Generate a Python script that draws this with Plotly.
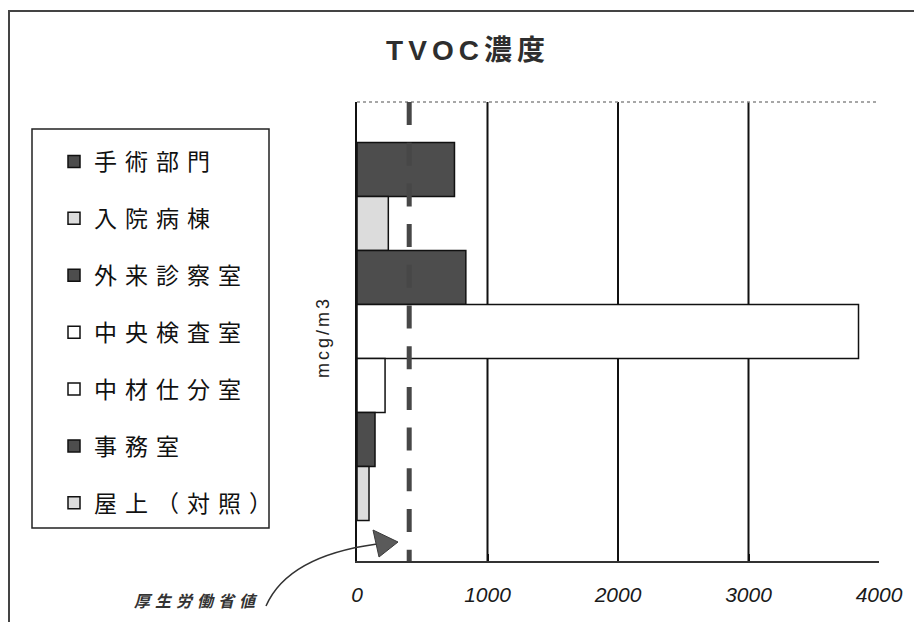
import plotly.graph_objects as go

# TVOC concentration by hospital area (mcg/m3)
categories = ["手術部門", "入院病棟", "外来診察室", "中央検査室", "中材仕分室", "事務室", "屋上（対照）"]
tvoc_values = [747, 240, 834, 3843, 215, 138, 92]
guideline_value = 400
x_ticks = [0, 1000, 2000, 3000, 4000]
x_tick_labels = ["0", "1000", "2000", "3000", "4000"]

DARK, LIGHT, WHITE = "#4d4d4d", "#dcdcdc", "#ffffff"
bar_colors = [DARK, LIGHT, DARK, WHITE, WHITE, DARK, LIGHT]

W, H = 914, 622
L, R, T, B = 357, 879, 102, 561


def pxx(x):
    """pixel x -> paper x"""
    return (x - L) / (R - L)


def pxy(y):
    """pixel y -> paper y"""
    return (B - y) / (B - T)


fig = go.Figure()
for name, val, col in zip(categories, tvoc_values, bar_colors):
    fig.add_trace(go.Bar(
        y=["TVOC"], x=[val], name=name, orientation="h",
        legendgroup=name,
        marker=dict(color=col, line=dict(color="#111111", width=1.5)),
        hovertemplate="%{x}<extra>" + name + "</extra>",
    ))

shapes = []
# vertical gridlines at interior ticks
for v in x_ticks[1:-1]:
    shapes.append(dict(type="line", xref="x", yref="paper", x0=v, x1=v, y0=0, y1=1,
                       line=dict(color="#111111", width=2), layer="below"))
# dotted top border of plot area
shapes.append(dict(type="line", xref="paper", yref="paper", x0=0, x1=1, y0=1, y1=1,
                   line=dict(color="#8a8a8a", width=1.5, dash="dot")))
# guideline value (dashed)
shapes.append(dict(type="line", xref="x", yref="paper", x0=guideline_value, x1=guideline_value,
                   y0=1, y1=0, line=dict(color="#474747", width=5, dash="23px,17.7px")))
# legend frame
shapes.append(dict(type="rect", xref="paper", yref="paper",
                   x0=pxx(32), x1=pxx(269), y0=pxy(528), y1=pxy(129),
                   line=dict(color="#222222", width=1.5), fillcolor="rgba(0,0,0,0)"))
# outer chart frame (only top and left edges fall inside the page)
shapes.append(dict(type="rect", xref="paper", yref="paper",
                   x0=pxx(9), x1=pxx(980), y0=pxy(680), y1=pxy(11),
                   line=dict(color="#444444", width=2), fillcolor="rgba(0,0,0,0)"))
# curved arrow pointing to the guideline
shapes.append(dict(type="path", xref="paper", yref="paper",
                   path=f"M {pxx(266)},{pxy(606)} Q {pxx(288)},{pxy(556)} {pxx(377)},{pxy(544)}",
                   line=dict(color="#333333", width=1.5)))
shapes.append(dict(type="path", xref="paper", yref="paper",
                   path=f"M {pxx(373)},{pxy(530)} L {pxx(398)},{pxy(542)} L {pxx(379)},{pxy(557)} Z",
                   line=dict(color="#3a3a3a", width=1), fillcolor="#5a5a5a"))

annotations = [
    dict(text="mcg/m3", xref="paper", yref="paper", x=pxx(323), y=pxy(337),
         textangle=-90, showarrow=False, xanchor="center", yanchor="middle",
         font=dict(family="Liberation Sans, Arial", size=18, color="#222222")),
    dict(text="厚生労働省値", xref="paper", yref="paper", x=pxx(198), y=pxy(600),
         showarrow=False, xanchor="center", yanchor="middle",
         font=dict(family="Noto Sans CJK JP", size=16, color="#333333",
                   weight="bold", style="italic")),
]

fig.update_layout(
    width=W, height=H,
    margin=dict(l=L, r=W - R, t=T, b=H - B, pad=0),
    paper_bgcolor="white", plot_bgcolor="white",
    barmode="group", bargap=0.176, bargroupgap=0,
    title=dict(text="TVOC濃度", x=468 / W, xref="container", xanchor="center",
               y=1 - 50 / H, yref="container", yanchor="middle",
               font=dict(family="Liberation Sans, Noto Sans CJK JP", size=28,
                         weight="bold", color="#2e2e2e")),
    xaxis=dict(range=[0, 4000], tickvals=x_ticks, ticktext=x_tick_labels,
               showgrid=False, zeroline=False,
               showline=True, linecolor="#333333", linewidth=1.5,
               ticks="inside", ticklen=7, tickwidth=1.5, tickcolor="#111111",
               ticklabelstandoff=14,
               tickfont=dict(family="Liberation Sans, Arial", size=21,
                             style="italic", color="#1a1a1a")),
    yaxis=dict(range=[0.5, -0.5], showticklabels=False, showgrid=False,
               zeroline=False, showline=True, linecolor="#111111", linewidth=2,
               ticks=""),
    legend=dict(xref="container", yref="container", x=54 / W, y=1 - 140 / H,
                xanchor="left", yanchor="top", tracegroupgap=24, maxheight=600,
                bgcolor="rgba(0,0,0,0)", borderwidth=0, traceorder="grouped",
                font=dict(family="Noto Sans CJK JP", size=23, color="#111111")),
    shapes=shapes,
    annotations=annotations,
    showlegend=True,
)

spacing_js = """
var gd = document.getElementById('{plot_id}');
function spacing(sel, v) {
  gd.querySelectorAll(sel).forEach(function (e) { e.style.letterSpacing = v; });
}
spacing('.legendtext', '8px');
spacing('.gtitle', '5px');
gd.querySelectorAll('.legend .scrollbox').forEach(function (e) { e.removeAttribute('clip-path'); });
gd.querySelectorAll('.legend .scrollbar').forEach(function (e) { e.style.display = 'none'; });
gd.querySelectorAll('.annotation-text').forEach(function (e) {
  if (e.textContent === 'mcg/m3') { e.style.letterSpacing = '3px'; }
  else { e.style.letterSpacing = '5px'; }
});
"""

fig.write_html("out.html", post_script=spacing_js)
